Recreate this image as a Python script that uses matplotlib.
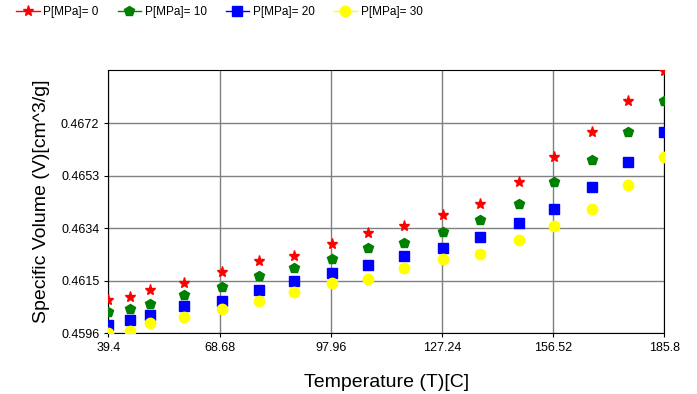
import matplotlib.pyplot as plt
import numpy as np
from matplotlib.lines import Line2D

plt.rcParams['font.family'] = ['Liberation Sans', 'DejaVu Sans']

# Temperature values (C)
temp = [39.4, 45.1, 50.4, 59.4, 69.3, 79.0, 88.4, 98.2, 107.7, 117.2,
        127.4, 137.2, 147.5, 156.7, 166.7, 176.2, 185.8]

# Specific volume for each pressure
v_p0 = [0.46081, 0.46090, 0.46118, 0.46141, 0.46182, 0.46221, 0.46241, 0.46283, 0.46322,
        0.46349, 0.46389, 0.46428, 0.46508, 0.46598, 0.46690, 0.46801, 0.46909]
v_p10 = [0.46036, 0.46049, 0.46066, 0.46098, 0.46126, 0.46167, 0.46195, 0.46229, 0.46268,
         0.46287, 0.46327, 0.46370, 0.46428, 0.46507, 0.46587, 0.46688, 0.46801]
v_p20 = [0.45989, 0.46009, 0.46026, 0.46060, 0.46078, 0.46118, 0.46149, 0.46179, 0.46208,
         0.46241, 0.46270, 0.46310, 0.46360, 0.46411, 0.46491, 0.46581, 0.46690]
v_p30 = [0.45960, 0.45969, 0.45998, 0.46020, 0.46049, 0.46078, 0.46111, 0.46141, 0.46158,
         0.46197, 0.46230, 0.46248, 0.46299, 0.46349, 0.46411, 0.46497, 0.46598]

labels = ['P[MPa]= 0', 'P[MPa]= 10', 'P[MPa]= 20', 'P[MPa]= 30']
xticks = [39.4, 68.68, 97.96, 127.24, 156.52, 185.8]
yticks = [0.4596, 0.4615, 0.4634, 0.4653, 0.4672]

fig = plt.figure(figsize=(6.97, 3.94), dpi=100)
ax = fig.add_axes([0.1554, 0.154, 0.7977, 0.6683])

styles = [('red', '*', 8), ('green', 'p', 7.5), ('blue', 's', 6.5), ('yellow', 'o', 7.5)]
for vals, lab, (c, m, ms) in zip([v_p0, v_p10, v_p20, v_p30], labels, styles):
    ax.plot(temp, vals, color=c, marker=m, markersize=ms, linestyle='none',
            label=lab, zorder=3)

ax.set_xlim(39.4, 185.8)
ax.set_ylim(0.4596, 0.46913)
ax.set_xticks(xticks)
ax.set_xticklabels(['39.4', '68.68', '97.96', '127.24', '156.52', '185.8'])
ax.set_yticks(yticks)
ax.set_yticklabels(['0.4596', '0.4615', '0.4634', '0.4653', '0.4672'])
ax.tick_params(labelsize=9, length=3, direction='out')
ax.grid(True, color='#808080', linewidth=1)
for s in ax.spines.values():
    s.set_color('black')

ax.set_xlabel('Temperature (T)[C]', fontsize=14, labelpad=14)
ax.set_ylabel('Specific Volume (V)[cm^3/g]', fontsize=14, labelpad=8)

# legend handles with a line through the marker
handles = [Line2D([], [], color=c, marker=m, markersize=ms, linewidth=1)
           for c, m, ms in styles]
fig.legend(handles, labels, loc='upper left', bbox_to_anchor=(0.008, 1.012), ncol=4,
           frameon=False, fontsize=8.5, handlelength=2.0, handletextpad=0.3,
           columnspacing=1.6)

plt.savefig('out.png', dpi=100)
